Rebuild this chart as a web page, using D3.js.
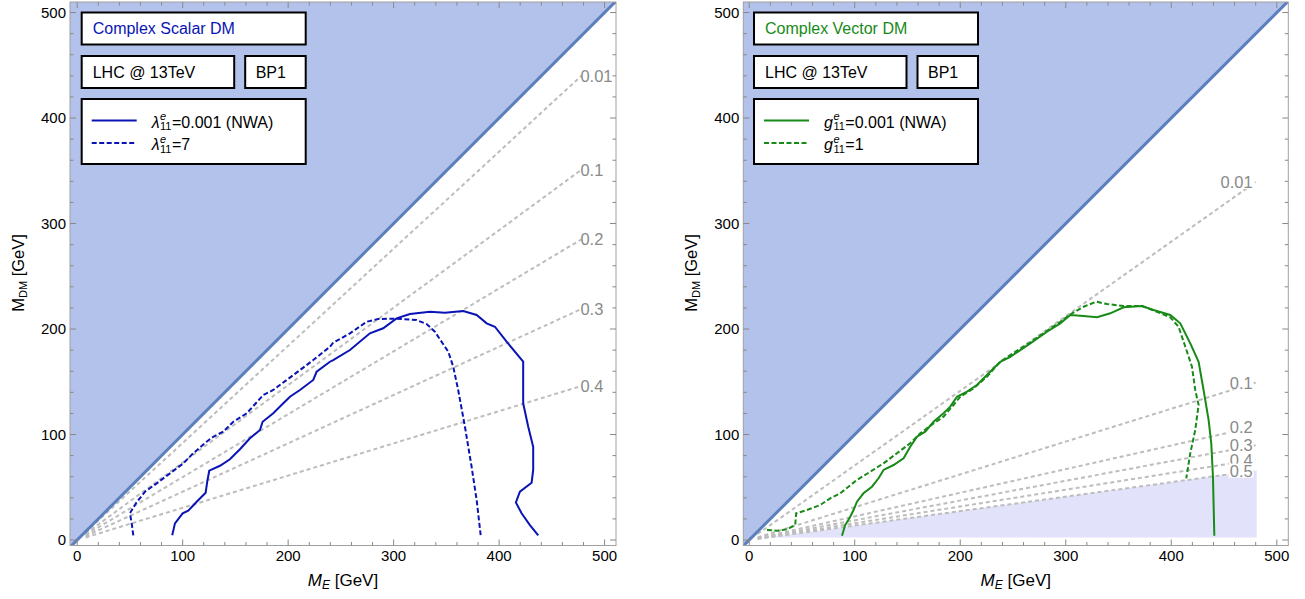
<!DOCTYPE html>
<meta charset="utf-8">
<html>
<head>
    <style>
        body { margin: 0; background: #fff; }
        text { font-family: "Liberation Sans", Arial, sans-serif; }
        .tick-label { font-size: 15px; fill: #000; }
        .ref-label { font-size: 16.5px; fill: #8a8a8a; }
        .box-text { font-size: 16px; }
    </style>
    <title>DM exclusion</title>
    <script src="https://cdn.jsdelivr.net/npm/d3@7"></script>
</head>
<body>
<div id="chart"></div>
<script>
    // ---- data (GeV) ----
    const scalarSolid = [[90.1,4.5],[92.7,15.8],[100,25.3],[105.3,27.8],[113.3,36.3],[121.8,44.8],[123.3,55.3],[125.2,65.7],
        [135.4,70.4],[144.8,76.5],[154.3,86],[163.8,96.4],[173.3,104.3],[175.8,112.1],[185.9,120.1],[195.4,129.6],
        [201.7,135.8],[211.2,142.2],[223.8,151.7],[227,159.5],[239.6,169],[242.7,170.6],[258.6,180.1],[277.5,195.9],
        [290.1,200.7],[302.8,210.1],[315.5,214.2],[334.4,216.4],[348.6,215.4],[366,217.1],[378.7,213.3],[388.2,205.4],
        [396,202.2],[407.1,188],[422.8,169],[422.8,129.6],[427.6,107.4],[432.3,88.4],[432.3,66.4],[430.8,54.3],
        [419.7,45.8],[415.9,35.7],[421.3,25.3],[429.2,14.2],[437.1,4.5]];
    const scalarDashed = [[53.2,4.5],[51.7,15.8],[50,25.3],[55.7,34.8],[64.3,45.8],[75.4,53.7],[88,63.2],[100.6,72.7],
        [110,82.2],[122.7,93.2],[129,97.9],[138.5,102.7],[148,112.1],[160.7,120.1],[176.4,137.4],[185.9,142.2],
        [198.6,151.7],[211.2,161.1],[223.8,170.6],[239.6,183.2],[242.7,187],[258.6,195.9],[274.4,206.9],[285.4,209.5],
        [302.8,209.8],[321.8,208.5],[331.3,204.7],[339.1,197.4],[351.8,178.5],[356.5,164.3],[361.2,142.2],
        [367.6,107.4],[373.9,69.5],[378.7,37.9],[382.5,4.7]];
    const vectorSolid = [[87.9,4.1],[91,14.2],[95.7,22.1],[98.9,28.4],[102.1,36.3],[108.3,44.3],[116.3,50.5],[122.6,58.5],
        [127.3,66.4],[136.8,71.1],[146.3,77.4],[152.6,88.4],[159,97.9],[166.8,102.7],[174.7,112.1],[184.2,120.1],
        [190.5,126.4],[196.9,135.8],[206.4,140.6],[215.8,146.9],[225.3,156.4],[237.9,169],[247.4,173.7],[266.4,186.4],
        [282.2,197.4],[294.8,205.4],[304.3,213.3],[316.9,212.3],[329.6,211.1],[342.2,214.9],[354.8,220.6],[372.2,221.8],
        [383.2,218],[399,213.3],[408.5,205.4],[418,186.4],[425.9,169],[430.6,142.2],[435.4,113.7],[437.9,91.7],
        [439.5,60],[440.8,4.1]];
    const vectorDashed = [[16.8,9.5],[26.3,8.8],[35.7,10.1],[43.6,14.2],[44.5,25.3],[54.7,28.4],[67.3,33.2],[76.8,39.5],
        [86.3,44.3],[102.1,56.9],[114.7,64.7],[127.3,72.7],[140,82.2],[152.6,91.7],[162.1,101.1],[174.7,110.6],
        [184.2,116.9],[193.6,128],[200,135.8],[212.6,143.8],[225.3,154.8],[237.9,169],[247.4,175.4],[266.4,187.4],
        [282.2,198.4],[294.8,206.9],[305.9,214.9],[316.9,221.1],[328.9,225.9],[339.1,223.7],[354.8,221.8],[372.2,221.8],
        [386.4,216.4],[399,211.1],[406.9,202.2],[413.3,183.2],[419.6,164.3],[422.7,142.2],[425.9,128],[422.7,104.3],
        [418,82.2],[414.2,58.5]];

    // reference contours: label, and M_DM reached at the end point
    const scalarRefLabels = ["0.01", "0.1", "0.2", "0.3", "0.4"];
    const scalarRefEndY = [440, 351, 285, 219, 146];
    const scalarRefEndX = 478;
    const vectorRefLabels = ["0.01", "0.1", "0.2", "0.3", "0.4", "0.5"];
    const vectorRefEndY = [339.4, 149.3, 107.5, 89.8, 76.3, 65.8];
    const vectorRefEndX = 480;
    // shaded excluded wedge in the vector panel
    const vectorWedge = [[18, 2.5], [481, 66], [481, 2.5]];

    const majorTicks = [0, 100, 200, 300, 400, 500];

    const svg = d3.select("#chart").append("svg")
        .attr("width", 1305)
        .attr("height", 599);

    const measurer = svg.append("text").attr("x", -1000).attr("y", -1000);
    function textWidth(str, size, italic) {
        measurer.attr("font-size", size).style("font-style", italic ? "italic" : "normal").text(str);
        return measurer.node().getComputedTextLength();
    }

    // symbol with stacked sup/sub, followed by plain text
    function mathText(g, x, y, sym, sup, sub, rest) {
        const t = g.append("text").attr("x", x).attr("y", y).attr("font-size", 16).attr("fill", "#000");
        const w = textWidth(sym, 16, true);
        t.append("tspan").style("font-style", "italic").text(sym);
        t.append("tspan").attr("x", x + w + 0.5).attr("dy", -7.5).attr("font-size", 11)
            .style("font-style", "italic").text(sup);
        t.append("tspan").attr("x", x + w + 0.5).attr("dy", 10).attr("font-size", 11).text(sub);
        const w2 = textWidth(sub, 11, false);
        t.append("tspan").attr("x", x + w + 0.5 + w2 + 0.5).attr("dy", -2.5).text(rest);
    }

    function drawPanel(cfg) {
        const x = d3.scaleLinear().domain(cfg.xDomain).range([cfg.left, cfg.right]);
        const y = d3.scaleLinear().domain([-5.2, 510]).range([545.5, 2]);
        const g = svg.append("g");

        const clipId = "clip-" + cfg.id;
        g.append("clipPath").attr("id", clipId).append("rect")
            .attr("x", cfg.left).attr("y", 2)
            .attr("width", cfg.right - cfg.left).attr("height", 543.5);

        const plot = g.append("g").attr("clip-path", "url(#" + clipId + ")");
        const lo = -10, hi = 520;

        // kinematically forbidden region M_DM > M_E
        plot.append("path")
            .attr("d", d3.line()([[x(lo), y(lo)], [x(hi), y(hi)], [x(lo), y(hi)]]))
            .attr("fill", "#b3c2ea");

        if (cfg.wedge) {
            plot.append("path")
                .attr("d", d3.line()(cfg.wedge.map(d => [x(d[0]), y(d[1])])) + "Z")
                .attr("fill", "#e2e3fa");
        }

        // reference contours
        cfg.refEndY.forEach((ey) => {
            const k = ey / cfg.refEndX;
            plot.append("line")
                .attr("x1", x(8)).attr("y1", y(8 * k))
                .attr("x2", x(cfg.refEndX)).attr("y2", y(ey))
                .attr("stroke", "#bdbdbd").attr("stroke-width", 2)
                .attr("stroke-dasharray", "4,3");
        });

        plot.append("line")
            .attr("x1", x(lo)).attr("y1", y(lo))
            .attr("x2", x(hi)).attr("y2", y(hi))
            .attr("stroke", "#5b7fbd").attr("stroke-width", 3);

        const line = d3.line().x(d => x(d[0])).y(d => y(d[1]));
        plot.append("path").datum(cfg.solid).attr("d", line)
            .attr("fill", "none").attr("stroke", cfg.color).attr("stroke-width", 2);
        plot.append("path").datum(cfg.dashed).attr("d", line)
            .attr("fill", "none").attr("stroke", cfg.color).attr("stroke-width", 2)
            .attr("stroke-dasharray", "5,2.5");

        // reference labels
        cfg.refEndY.forEach((ey, i) => {
            const lab = cfg.refLabels[i];
            const w = textWidth(lab, 16.5, false);
            const tx = cfg.labelAlign === "start" ? x(cfg.refEndX) - 1 : x(cfg.refEndX) - 3 - w;
            if (cfg.labelAlign !== "start") {
                g.append("rect").attr("x", tx - 1).attr("y", y(ey) - 7)
                    .attr("width", w + 2).attr("height", 14).attr("fill", "#fff");
            }
            g.append("text").attr("class", "ref-label")
                .attr("x", tx).attr("y", y(ey) + 6).text(lab);
        });

        // frame
        g.append("rect")
            .attr("x", cfg.left).attr("y", 2)
            .attr("width", cfg.right - cfg.left).attr("height", 543.5)
            .attr("fill", "none").attr("stroke", "#a0a0a0").attr("stroke-width", 1);

        const minor = d3.range(0, 501, 20).filter(v => v % 100 !== 0);
        const tickColor = "#888";
        [[majorTicks, 6], [minor, 3.5]].forEach(([vals, len]) => {
            vals.forEach(v => {
                g.append("line").attr("x1", x(v)).attr("x2", x(v)).attr("y1", 545.5).attr("y2", 545.5 - len)
                    .attr("stroke", tickColor);
                g.append("line").attr("x1", x(v)).attr("x2", x(v)).attr("y1", 2).attr("y2", 2 + len)
                    .attr("stroke", tickColor);
                g.append("line").attr("y1", y(v)).attr("y2", y(v)).attr("x1", cfg.left).attr("x2", cfg.left + len)
                    .attr("stroke", tickColor);
                g.append("line").attr("y1", y(v)).attr("y2", y(v)).attr("x1", cfg.right).attr("x2", cfg.right - len)
                    .attr("stroke", tickColor);
            });
        });

        g.selectAll(".xl").data(majorTicks).enter().append("text")
            .attr("class", "tick-label")
            .attr("x", d => x(d)).attr("y", 561)
            .attr("text-anchor", "middle").text(d => d);
        g.selectAll(".yl").data(majorTicks).enter().append("text")
            .attr("class", "tick-label")
            .attr("x", cfg.left - 4).attr("y", d => y(d) + 5)
            .attr("text-anchor", "end").text(d => d);

        // axis titles
        const cx = (cfg.left + cfg.right) / 2;
        const xt = g.append("text").attr("x", cx).attr("y", 586).attr("font-size", 17).attr("text-anchor", "middle");
        xt.append("tspan").style("font-style", "italic").text("M");
        xt.append("tspan").attr("font-size", 12).attr("dy", 3).style("font-style", "italic").text("E");
        xt.append("tspan").attr("dy", -3).text(" [GeV]");

        const yt = g.append("text").attr("font-size", 16.5).attr("text-anchor", "middle")
            .attr("transform", "translate(" + (cfg.left - 46) + ",273) rotate(-90)");
        yt.append("tspan").text("M");
        yt.append("tspan").attr("font-size", 11).attr("dy", 3).text("DM");
        yt.append("tspan").attr("dy", -3).text(" [GeV]");

        // info boxes
        const bx = cfg.left + cfg.boxOff;
        const box = (x0, y0, w, h) => g.append("rect").attr("x", x0).attr("y", y0).attr("width", w).attr("height", h)
            .attr("fill", "#fff").attr("stroke", "#000").attr("stroke-width", 2);
        box(bx, 12.5, 224, 32);
        g.append("text").attr("class", "box-text").attr("x", bx + 11).attr("y", 34)
            .style("fill", cfg.color).text(cfg.title);
        box(bx, 56, 152.5, 32);
        g.append("text").attr("class", "box-text").attr("x", bx + 11).attr("y", 77.5).text("LHC @ 13TeV");
        box(bx + 163.5, 56, 60.5, 32);
        g.append("text").attr("class", "box-text").attr("x", bx + 174).attr("y", 77.5).text("BP1");
        box(bx, 99, 224, 65);
        g.append("line").attr("x1", bx + 10).attr("x2", bx + 55).attr("y1", 120.5).attr("y2", 120.5)
            .attr("stroke", cfg.color).attr("stroke-width", 2);
        g.append("line").attr("x1", bx + 10).attr("x2", bx + 55).attr("y1", 143).attr("y2", 143)
            .attr("stroke", cfg.color).attr("stroke-width", 2).attr("stroke-dasharray", "5,2.5");
        mathText(g, bx + 70, 127.5, cfg.sym, "e", "11", "=0.001 (NWA)");
        mathText(g, bx + 70, 150, cfg.sym, "e", "11", "=" + cfg.large);
    }

    drawPanel({
        id: "scalar", left: 70, right: 616, xDomain: [-6.8, 510.8], boxOff: 11.7,
        solid: scalarSolid, dashed: scalarDashed, color: "#0a14b4",
        refLabels: scalarRefLabels, refEndY: scalarRefEndY, refEndX: scalarRefEndX, labelAlign: "start",
        title: "Complex Scalar DM", sym: "λ", large: "7"
    });
    drawPanel({
        id: "vector", left: 743.3, right: 1288.3, xDomain: [-5.6, 510.9], boxOff: 10.7,
        solid: vectorSolid, dashed: vectorDashed, color: "#178a17",
        refLabels: vectorRefLabels, refEndY: vectorRefEndY, refEndX: vectorRefEndX, labelAlign: "end",
        wedge: vectorWedge, title: "Complex Vector DM", sym: "g", large: "1"
    });
    measurer.remove();
</script>
</body>
</html>
